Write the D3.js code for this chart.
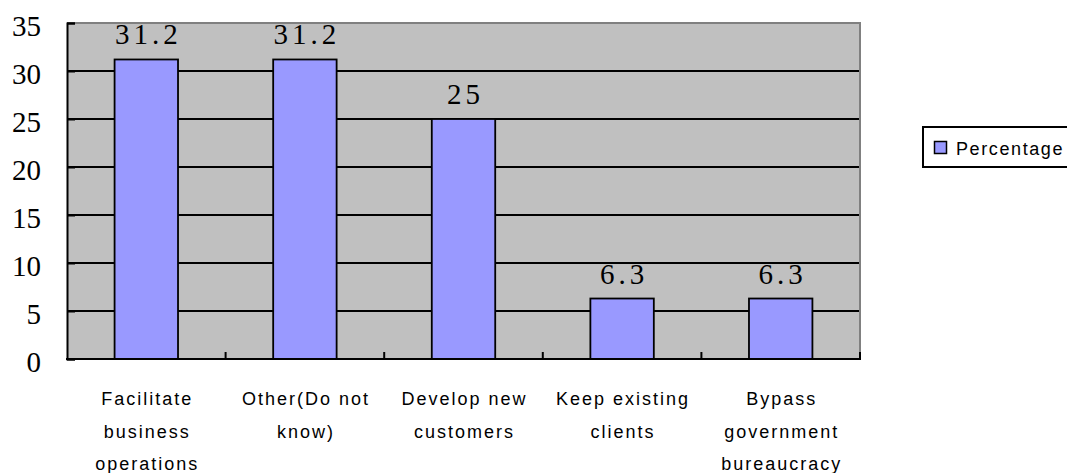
<!DOCTYPE html>
<html>
<head>
<meta charset="utf-8">
<script src="https://cdn.jsdelivr.net/npm/d3@7"></script>
<style>
  html, body { margin: 0; padding: 0; background: #ffffff; }
  svg { display: block; }
</style>
</head>
<body>
<svg id="chart" width="1067" height="473"></svg>
<script>
// Share of respondents by reason (percent)
const categories = [
  "Facilitate business operations",
  "Other(Do not know)",
  "Develop new customers",
  "Keep existing clients",
  "Bypass government bureaucracy"
];
const percentages = [31.2, 31.2, 25, 6.3, 6.3];
const seriesName = "Percentage";
const yTicks = [0, 5, 10, 15, 20, 25, 30, 35];

const svg = d3.select("#chart");
const plot = { left: 67, right: 860, top: 23, bottom: 359 };

const x = d3.scaleBand()
  .domain(categories)
  .range([plot.left, plot.right])
  .paddingInner(0.6)
  .paddingOuter(0.3);

const y = d3.scaleLinear()
  .domain([0, 35])
  .range([plot.bottom, plot.top]);

const step = x.step();
const barColor = "#9999ff";

// plot area background
svg.append("rect")
  .attr("x", plot.left).attr("y", plot.top)
  .attr("width", plot.right - plot.left)
  .attr("height", plot.bottom - plot.top)
  .attr("fill", "#c0c0c0");

// horizontal gridlines
svg.append("g")
  .selectAll("line")
  .data(yTicks.filter(t => t > 0 && t < 35))
  .join("line")
  .attr("x1", plot.left).attr("x2", plot.right)
  .attr("y1", d => y(d)).attr("y2", d => y(d))
  .attr("stroke", "#000").attr("stroke-width", 2);

// top and right frame
svg.append("path")
  .attr("d", `M${plot.left},${plot.top}H${plot.right}V${plot.bottom}`)
  .attr("fill", "none")
  .attr("stroke", "#808080")
  .attr("stroke-width", 2);

// bars
svg.append("g")
  .selectAll("rect")
  .data(percentages)
  .join("rect")
  .attr("x", (d, i) => x(categories[i]))
  .attr("y", d => y(d))
  .attr("width", x.bandwidth())
  .attr("height", d => y(0) - y(d))
  .attr("fill", barColor)
  .attr("stroke", "#000")
  .attr("stroke-width", 1.8);

// value labels
const valueSpacing = 4;
svg.append("g")
  .selectAll("text")
  .data(percentages)
  .join("text")
  .attr("x", (d, i) => x(categories[i]) + x.bandwidth() / 2 + valueSpacing / 2)
  .attr("y", d => y(d) - 15)
  .attr("text-anchor", "middle")
  .attr("font-family", "'Liberation Serif', 'DejaVu Serif', serif")
  .attr("font-size", 29)
  .attr("letter-spacing", valueSpacing)
  .attr("fill", "#000")
  .text(d => String(d));

// y axis with inward ticks
const yAxis = d3.axisLeft(y)
  .tickValues(yTicks)
  .tickSize(-8)
  .tickPadding(26)
  .tickFormat(d3.format("d"));
const gy = svg.append("g")
  .attr("transform", `translate(${plot.left},0)`)
  .call(yAxis);
gy.select(".domain").attr("stroke", "#000").attr("stroke-width", 2);
gy.selectAll(".tick line").attr("stroke", "#000").attr("stroke-width", 2);
gy.selectAll(".tick text")
  .attr("font-family", "'Liberation Serif', 'DejaVu Serif', serif")
  .attr("font-size", 29)
  .attr("fill", "#000")
  .attr("dy", "0.65em")
  .attr("y", -6);

// x axis: baseline with tick marks at category boundaries
const boundaries = d3.range(categories.length + 1).map(i => plot.left + i * step);
svg.append("line")
  .attr("x1", plot.left - 1).attr("x2", plot.right + 1)
  .attr("y1", plot.bottom).attr("y2", plot.bottom)
  .attr("stroke", "#000").attr("stroke-width", 2);
svg.append("g")
  .selectAll("line")
  .data(boundaries.slice(1))
  .join("line")
  .attr("x1", d => d).attr("x2", d => d)
  .attr("y1", plot.bottom).attr("y2", plot.bottom - 7)
  .attr("stroke", "#000").attr("stroke-width", 2);

// category labels, wrapped to fit the category width
const labelFont = "'Liberation Sans', Arial, sans-serif";
const labelSize = 18;
const labelSpacing = 2;
const measurer = svg.append("text")
  .attr("font-family", labelFont)
  .attr("font-size", labelSize)
  .attr("visibility", "hidden");
function wrap(text, maxWidth) {
  const words = text.split(" ");
  const lines = [];
  let line = "";
  words.forEach(w => {
    const trial = line ? line + " " + w : w;
    measurer.text(trial);
    if (line && measurer.node().getComputedTextLength() > maxWidth) {
      lines.push(line);
      line = w;
    } else {
      line = trial;
    }
  });
  if (line) lines.push(line);
  return lines;
}
const labelGroup = svg.append("g");
categories.forEach(c => {
  const cx = x(c) + x.bandwidth() / 2 + labelSpacing / 2;
  const lines = wrap(c, 130);
  const t = labelGroup.append("text")
    .attr("text-anchor", "middle")
    .attr("font-family", labelFont)
    .attr("font-size", labelSize)
    .attr("letter-spacing", labelSpacing)
    .attr("fill", "#000");
  lines.forEach((ln, i) => {
    t.append("tspan")
      .attr("x", cx)
      .attr("y", 405 + i * 32.5)
      .text(ln);
  });
});
measurer.remove();

// legend
const legend = svg.append("g");
legend.append("rect")
  .attr("x", 923).attr("y", 127)
  .attr("width", 170).attr("height", 40)
  .attr("fill", "#fff")
  .attr("stroke", "#000").attr("stroke-width", 2);
legend.append("rect")
  .attr("x", 934.5).attr("y", 141.5)
  .attr("width", 12).attr("height", 12)
  .attr("fill", barColor)
  .attr("stroke", "#000").attr("stroke-width", 1.5);
legend.append("text")
  .attr("x", 956).attr("y", 155)
  .attr("font-family", labelFont)
  .attr("font-size", labelSize)
  .attr("letter-spacing", 1.6)
  .attr("fill", "#000")
  .text(seriesName);
</script>
</body>
</html>
